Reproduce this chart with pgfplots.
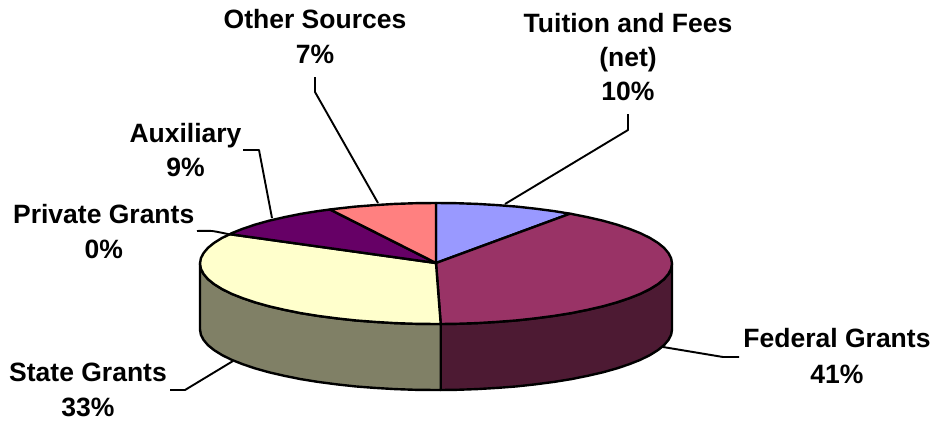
\documentclass[border=0pt]{standalone}
\usepackage{pgfplots}
\pgfplotsset{compat=1.18}
\usepackage{fontspec}
\setmainfont{Liberation Sans}
\definecolor{cTuition}{HTML}{9999FF}
\definecolor{cFederal}{HTML}{993366}
\definecolor{cFederalSide}{HTML}{4D1A33}
\definecolor{cState}{HTML}{FFFFCC}
\definecolor{cStateSide}{HTML}{808066}
\definecolor{cAux}{HTML}{660066}
\definecolor{cOther}{HTML}{FF8080}
\begin{document}
\begin{tikzpicture}
\begin{axis}[
  at={(0,0)},anchor=south west,
  x=1pt,y=1pt,xmin=0,xmax=937,ymin=0,ymax=423,y dir=reverse,
  hide axis,clip=false,
  every axis plot/.append style={line join=round},
]
% side walls
\addplot[draw=black,line width=2.4pt,fill=cFederalSide] coordinates {
(672,263.5)(671.1,268.8)(668.4,274)(664,279.2)(657.8,284.2)(649.9,289.1)(640.4,293.8)(629.3,298.2)(616.8,302.4)(602.9,306.3)(587.7,309.8)(571.4,313.1)(554,315.9)(535.7,318.3)(516.7,320.4)(497.1,321.9)(477,323.1)(456.6,323.8)(440.7,324)
(440.7,390)(456.6,389.8)(477,389.1)(497.1,387.9)(516.7,386.4)(535.7,384.3)(554,381.9)(571.4,379.1)(587.7,375.8)(602.9,372.3)(616.8,368.4)(629.3,364.2)(640.4,359.8)(649.9,355.1)(657.8,350.2)(664,345.2)(668.4,340)(671.1,334.8)(672,329.5)
} -- cycle;
\addplot[draw=black,line width=2.4pt,fill=cStateSide] coordinates {
(440.7,324)(436,324)(415.4,323.8)(395,323.1)(374.9,321.9)(355.3,320.4)(336.3,318.3)(318,315.9)(300.6,313.1)(284.3,309.8)(269.1,306.3)(255.2,302.4)(242.7,298.2)(231.6,293.8)(222.1,289.1)(214.2,284.2)(208,279.2)(203.6,274)(200.9,268.8)(200,263.5)
(200,329.5)(200.9,334.8)(203.6,340)(208,345.2)(214.2,350.2)(222.1,355.1)(231.6,359.8)(242.7,364.2)(255.2,368.4)(269.1,372.3)(284.3,375.8)(300.6,379.1)(318,381.9)(336.3,384.3)(355.3,386.4)(374.9,387.9)(395,389.1)(415.4,389.8)(436,390)(440.7,390)
} -- cycle;
% top faces
\addplot[draw=black,line width=2.4pt,fill=cTuition] coordinates {
(436,263)(436,203)(456.6,203.2)(477,203.9)(497.1,205.1)(516.7,206.6)(535.7,208.7)(554,211.1)(570,213.7)
} -- cycle;
\addplot[draw=black,line width=2.4pt,fill=cFederal] coordinates {
(436,263)(570,213.7)(571.4,213.9)(587.7,217.2)(602.9,220.7)(616.8,224.6)(629.3,228.8)(640.4,233.2)(649.9,237.9)(657.8,242.8)(664,247.8)(668.4,253)(671.1,258.2)(672,263.5)(671.1,268.8)(668.4,274)(664,279.2)(657.8,284.2)(649.9,289.1)(640.4,293.8)(629.3,298.2)(616.8,302.4)(602.9,306.3)(587.7,309.8)(571.4,313.1)(554,315.9)(535.7,318.3)(516.7,320.4)(497.1,321.9)(477,323.1)(456.6,323.8)(440.7,324)
} -- cycle;
\addplot[draw=black,line width=2.4pt,fill=cState] coordinates {
(436,263)(440.7,324)(436,324)(415.4,323.8)(395,323.1)(374.9,321.9)(355.3,320.4)(336.3,318.3)(318,315.9)(300.6,313.1)(284.3,309.8)(269.1,306.3)(255.2,302.4)(242.7,298.2)(231.6,293.8)(222.1,289.1)(214.2,284.2)(208,279.2)(203.6,274)(200.9,268.8)(200,263.5)(200.9,258.2)(203.6,253)(208,247.8)(214.2,242.8)(222.1,237.9)(230,234.2)
} -- cycle;
\addplot[draw=black,line width=2.4pt,fill=cAux] coordinates {
(436,263)(230,234.2)(231.6,233.2)(242.7,228.8)(255.2,224.6)(269.1,220.7)(284.3,217.2)(300.6,213.9)(318,211.1)(330,209.5)
} -- cycle;
\addplot[draw=black,line width=2.4pt,fill=cOther] coordinates {
(436,263)(330,209.5)(336.3,208.7)(355.3,206.6)(374.9,205.1)(395,203.9)(415.4,203.2)(436,203)
} -- cycle;
% leaders
\addplot[black,line width=1.9pt] coordinates {(628,114)(628,130)(505,204)};
\addplot[black,line width=1.9pt] coordinates {(315,77)(315,92)(378,203)};
\addplot[black,line width=1.9pt] coordinates {(243,150)(259,150)(272,218)};
\addplot[black,line width=1.9pt,smooth] coordinates {(197,231)(212,231)(230,234.5)};
\addplot[black,line width=1.9pt] coordinates {(663,347)(723,357)(739,357)};
\addplot[black,line width=1.9pt] coordinates {(233,361)(185,390)(170,390)};
% labels
\tikzset{lab/.style={anchor=base,font=\fontsize{26.5}{30}\selectfont\bfseries,inner sep=0pt}}
\node[lab] at (axis cs:315,28) {Other Sources};
\node[lab] at (axis cs:315,63) {7\%};
\node[lab] at (axis cs:628,32) {Tuition and Fees};
\node[lab] at (axis cs:628,66) {(net)};
\node[lab] at (axis cs:628,100.5) {10\%};
\node[lab] at (axis cs:185.5,142) {Auxiliary};
\node[lab] at (axis cs:185.5,176) {9\%};
\node[lab] at (axis cs:103.7,223) {Private Grants};
\node[lab] at (axis cs:103.7,258) {0\%};
\node[lab] at (axis cs:837,347.7) {Federal Grants};
\node[lab] at (axis cs:837,383) {41\%};
\node[lab] at (axis cs:88,381.7) {State Grants};
\node[lab] at (axis cs:88,416) {33\%};
\end{axis}
\path (0,0) rectangle (937pt,423pt);
\end{tikzpicture}
\end{document}
